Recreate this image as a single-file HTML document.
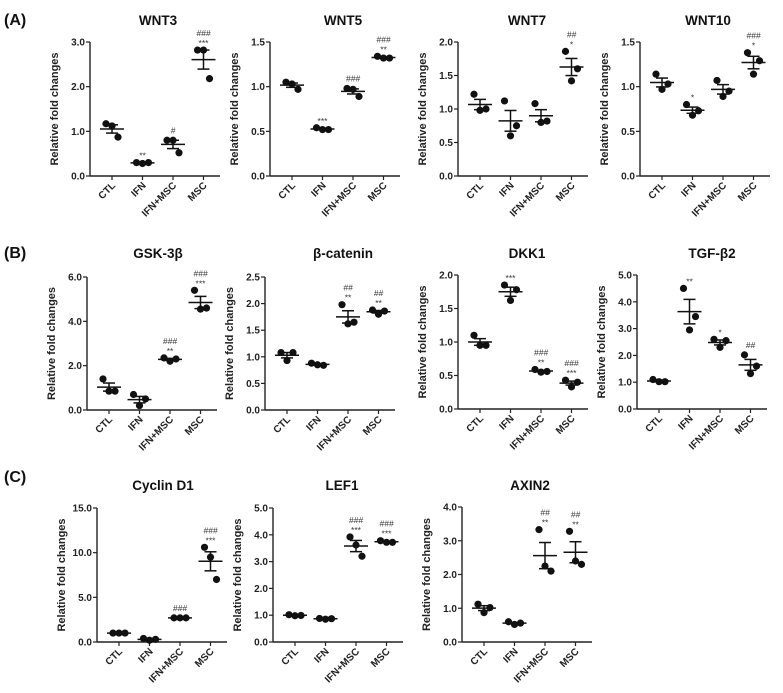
<!DOCTYPE html>
<html><head><meta charset="utf-8"><style>
body{margin:0;background:#fff;}
svg{display:block;font-family:"Liberation Sans",Arial,sans-serif;}
</style></head><body>
<svg id="fig" width="783" height="693" viewBox="0 0 783 693" xmlns="http://www.w3.org/2000/svg"></svg>
<script>
const categories = ["CTL","IFN","IFN+MSC","MSC"];
// per-panel replicate values (3 per group)
const wnt3 = [[1.17,1.12,0.87],[0.30,0.28,0.30],[0.80,0.80,0.52],[2.82,2.82,2.18]];
const wnt5 = [[1.05,1.03,0.97],[0.54,0.52,0.52],[0.98,0.97,0.89],[1.34,1.32,1.32]];
const wnt7 = [[1.22,0.98,1.00],[1.12,0.60,0.75],[1.08,0.80,0.82],[1.86,1.42,1.60]];
const wnt10 = [[1.14,0.97,1.03],[0.80,0.68,0.73],[1.07,0.89,0.95],[1.38,1.14,1.29]];
const gsk = [[1.40,0.85,0.85],[0.70,0.20,0.50],[2.35,2.20,2.30],[5.40,4.55,4.60]];
const bcat = [[1.08,0.93,1.08],[0.88,0.85,0.84],[1.98,1.62,1.65],[1.88,1.80,1.86]];
const dkk1 = [[1.10,0.95,0.95],[1.85,1.62,1.78],[0.59,0.55,0.56],[0.43,0.33,0.40]];
const tgf = [[1.10,1.02,1.02],[4.50,2.95,3.45],[2.60,2.30,2.55],[2.02,1.32,1.60]];
const cyc = [[1.0,1.0,1.0],[0.40,0.20,0.30],[2.70,2.70,2.70],[10.6,9.5,7.0]];
const lef1 = [[1.02,0.98,0.99],[0.88,0.85,0.87],[3.92,3.62,3.20],[3.78,3.72,3.72]];
const axin2 = [[1.12,0.87,1.02],[0.60,0.52,0.56],[3.33,2.25,2.10],[3.28,2.40,2.30]];
// significance labels per group (stars, hashes)
const wnt3Sig = [["",""],["**",""],["","#"],["***","###"]];
const wnt5Sig = [["",""],["***",""],["","###"],["**","###"]];
const wnt7Sig = [["",""],["",""],["",""],["*","##"]];
const wnt10Sig = [["",""],["*",""],["",""],["*","###"]];
const gskSig = [["",""],["",""],["**","###"],["***","###"]];
const bcatSig = [["",""],["",""],["**","##"],["**","##"]];
const dkk1Sig = [["",""],["***",""],["**","###"],["***","###"]];
const tgfSig = [["",""],["**",""],["*",""],["","##"]];
const cycSig = [["",""],["",""],["","###"],["***","###"]];
const lef1Sig = [["",""],["",""],["***","###"],["***","###"]];
const axin2Sig = [["",""],["",""],["**","##"],["**","##"]];
const wntTicks=[0,0.5,1.0,1.5]; const wnt3Ticks=[0,1,2,3]; const wnt7Ticks=[0,0.5,1,1.5,2];
const gskTicks=[0,2,4,6]; const bcatTicks=[0,0.5,1,1.5,2,2.5]; const dkkTicks=[0,0.5,1,1.5,2];
const tgfTicks=[0,1,2,3,4,5]; const cycTicks=[0,5,10,15]; const lefTicks=[0,1,2,3,4,5]; const axinTicks=[0,1,2,3,4];

const NS="http://www.w3.org/2000/svg";
const svg=document.getElementById('fig');
function el(tag,attrs,parent,text){const e=document.createElementNS(NS,tag);for(const k in attrs)e.setAttribute(k,attrs[k]);if(text!==undefined)e.textContent=text;(parent||svg).appendChild(e);return e;}

function panel(name,title,ax,top,bot,tcx,ty,data,sig,ticks){
  const g=el('g',{});
  
  
  const ymax=ticks[ticks.length-1];
  const y=v=>bot-(v/ymax)*(bot-top);
  const x=i=>ax+22+i*30.5;
  const t=el('text',{x:tcx,y:ty,'text-anchor':'middle','font-size':'13.5','font-weight':'bold',fill:'#111'},g,title);
  
  
  const ya=el('line',{x1:ax,y1:top,x2:ax,y2:bot,stroke:'#222','stroke-width':1.4},g);
  
  
  const xa=el('line',{x1:ax,y1:bot,x2:ax+130,y2:bot,stroke:'#222','stroke-width':1.4},g);
  
  
  ticks.forEach(v=>{
    el('line',{x1:ax-4,y1:y(v),x2:ax,y2:y(v),stroke:'#222','stroke-width':1.2},g);
    const tl=el('text',{x:ax-5,y:y(v)+3.5,'text-anchor':'end','font-size':'10','font-weight':'bold',fill:'#222'},g,v.toFixed(1));
    
    
  });
  const yl=el('text',{x:0,y:0,transform:`translate(${ax-32},${(top+bot)/2}) rotate(-90)`,'text-anchor':'middle','font-size':'11','font-weight':'bold',fill:'#222'},g,'Relative fold changes');
  
  
  categories.forEach((c,i)=>{
    const cx=x(i);
    el('line',{x1:cx,y1:bot,x2:cx,y2:bot+4,stroke:'#222','stroke-width':1.2},g);
    const cl=el('text',{x:0,y:0,transform:`translate(${cx+4},${bot+10}) rotate(-45)`,'text-anchor':'end','font-size':'10','font-weight':'bold',fill:'#222'},g,c);
    
    
    const vals=data[i];
    const m=vals.reduce((a,b)=>a+b,0)/vals.length;
    const sd=Math.sqrt(vals.reduce((a,b)=>a+(b-m)*(b-m),0)/(vals.length-1));
    const se=sd/Math.sqrt(vals.length);
    const mean=el('line',{x1:cx-12,y1:y(m),x2:cx+12,y2:y(m),stroke:'#111','stroke-width':1.5},g);
    
    
    el('line',{x1:cx,y1:y(m-se),x2:cx,y2:y(m+se),stroke:'#111','stroke-width':1.5},g);
    el('line',{x1:cx-6,y1:y(m+se),x2:cx+6,y2:y(m+se),stroke:'#111','stroke-width':1.5},g);
    el('line',{x1:cx-6,y1:y(m-se),x2:cx+6,y2:y(m-se),stroke:'#111','stroke-width':1.5},g);
    const offs=[-6,0,6];
    vals.forEach((v,k)=>{
      const p=el('circle',{cx:cx+offs[k],cy:y(v),r:3.6,fill:'#111'},g);
      
      
    });
    const mx=Math.max(...vals, m+se);
    let sy=y(mx)-7;
    if(sig[i][0]){const s=el('text',{x:cx,y:sy+3,'text-anchor':'middle','font-size':'8.5',fill:'#333'},g,sig[i][0]);
      
       sy-=7;}
    if(sig[i][1]){const s=el('text',{x:cx,y:sy,'text-anchor':'middle','font-size':'8.5','font-style':'italic',fill:'#333'},g,sig[i][1]);
      
      }
  });
}
function plabel(txt,yy,n){const t=el('text',{x:4,y:yy,'font-size':'16','font-weight':'bold',fill:'#111'},svg,txt);
  
  }
plabel('(A)',25,'panel-label-a');plabel('(B)',258,'panel-label-b');plabel('(C)',482,'panel-label-c');
panel('wnt3','WNT3',90,42,176,158,25,wnt3,wnt3Sig,wnt3Ticks);
panel('wnt5','WNT5',270,42,176,343,25,wnt5,wnt5Sig,wntTicks);
panel('wnt7','WNT7',458,42,176,527,25,wnt7,wnt7Sig,wnt7Ticks);
panel('wnt10','WNT10',640,42,176,708,25,wnt10,wnt10Sig,wntTicks);
panel('gsk3b','GSK-3β',87,277,410,158,258,gsk,gskSig,gskTicks);
panel('beta-catenin','β-catenin',265,277,410,343,258,bcat,bcatSig,bcatTicks);
panel('dkk1','DKK1',458,275,409,527,258,dkk1,dkk1Sig,dkkTicks);
panel('tgfb2','TGF-β2',637,275,409,712,258,tgf,tgfSig,tgfTicks);
panel('cyclin-d1','Cyclin D1',97,508,642,163,490,cyc,cycSig,cycTicks);
panel('lef1','LEF1',273,508,642,342,490,lef1,lef1Sig,lefTicks);
panel('axin2','AXIN2',462,507,642,530,490,axin2,axin2Sig,axinTicks);
</script>
</body></html>
